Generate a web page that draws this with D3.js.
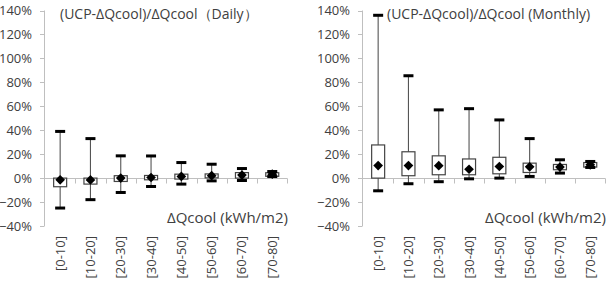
<!DOCTYPE html>
<html>
<head>
<meta charset="utf-8">
<script src="https://cdn.jsdelivr.net/npm/d3@7"></script>
<style>
  body { margin: 0; background: #fff; }
  svg { display: block; }
  text { font-family: "Open Sans", sans-serif; fill: #404040; }
</style>
</head>
<body>
<svg id="chart" width="606" height="285"></svg>
<script>
const categories = ["[0-10]", "[10-20]", "[20-30]", "[30-40]", "[40-50]", "[50-60]", "[60-70]", "[70-80]"];
const yTicks = [-0.4, -0.2, 0, 0.2, 0.4, 0.6, 0.8, 1.0, 1.2, 1.4];

// daily ratios
const dailyMin = [-0.25, -0.18, -0.12, -0.07, -0.05, -0.023, -0.02, 0.013];
const dailyQ1 = [-0.072, -0.05, -0.028, -0.014, -0.008, 0.002, 0.0, 0.015];
const dailyMid = [-0.014, -0.015, 0.0, 0.005, 0.014, 0.02, 0.025, 0.033];
const dailyQ3 = [0.0, 0.0, 0.02, 0.022, 0.033, 0.035, 0.046, 0.045];
const dailyMax = [0.39, 0.33, 0.186, 0.185, 0.13, 0.116, 0.08, 0.055];

// monthly ratios
const monthlyMin = [-0.106, -0.047, -0.03, -0.006, 0.0, 0.014, 0.042, 0.089];
const monthlyQ1 = [0.0, 0.02, 0.028, 0.028, 0.036, 0.047, 0.07, 0.092];
const monthlyMid = [0.105, 0.105, 0.104, 0.074, 0.097, 0.094, 0.092, 0.111];
const monthlyQ3 = [0.277, 0.22, 0.186, 0.16, 0.174, 0.125, 0.114, 0.13];
const monthlyMax = [1.36, 0.855, 0.57, 0.58, 0.486, 0.33, 0.153, 0.139];

const svg = d3.select("#chart");

function drawPanel(x0, x1, title, mins, q1s, mids, q3s, maxs) {
  const g = svg.append("g");
  const x = d3.scaleBand().domain(categories).range([x0, x1]);
  const y = d3.scaleLinear().domain([-0.4, 1.4]).range([226, 10.5]);

  // y axis
  g.append("line")
    .attr("x1", x0 - 0.5).attr("x2", x0 - 0.5)
    .attr("y1", y(-0.4)).attr("y2", y(1.4))
    .attr("stroke", "#bfbfbf");
  g.selectAll(".ytick").data(yTicks).enter().append("line")
    .attr("x1", x0 - 5).attr("x2", x0 - 0.5)
    .attr("y1", d => Math.round(y(d)) + 0.5).attr("y2", d => Math.round(y(d)) + 0.5)
    .attr("stroke", "#bfbfbf");
  g.selectAll(".ylab").data(yTicks).enter().append("text")
    .attr("x", x0 - 13).attr("y", d => y(d) + 4.5)
    .attr("text-anchor", "end")
    .style("font-size", "13px")
    .text(d => d3.format(".0%")(d));

  // x axis at zero
  const y0 = Math.round(y(0)) + 0.5;
  g.append("line")
    .attr("x1", x0).attr("x2", x1)
    .attr("y1", y0).attr("y2", y0)
    .attr("stroke", "#bfbfbf");
  g.selectAll(".xtick").data(categories.slice(1).concat([null])).enter().append("line")
    .attr("x1", (d, i) => Math.round(x0 + (i + 1) * x.bandwidth()) + 0.5)
    .attr("x2", (d, i) => Math.round(x0 + (i + 1) * x.bandwidth()) + 0.5)
    .attr("y1", y0).attr("y2", y0 + 5)
    .attr("stroke", "#bfbfbf");
  g.selectAll(".xlab").data(categories).enter().append("text")
    .attr("transform", d => `translate(${x(d) + x.bandwidth() / 2 + 4.5},236) rotate(-90)`)
    .attr("text-anchor", "end")
    .style("font-size", "13px")
    .text(d => d);

  const cx = d => x(d) + x.bandwidth() / 2;

  // whiskers
  g.selectAll(".whisk").data(categories).enter().append("line")
    .attr("x1", cx).attr("x2", cx)
    .attr("y1", (d, i) => y(maxs[i])).attr("y2", (d, i) => y(mins[i]))
    .attr("stroke", "#555").attr("stroke-width", 1.1);

  // boxes
  g.selectAll(".box").data(categories).enter().append("rect")
    .attr("x", d => cx(d) - 6.5).attr("width", 13)
    .attr("y", (d, i) => y(q3s[i]))
    .attr("height", (d, i) => Math.max(1, y(q1s[i]) - y(q3s[i])))
    .attr("fill", "#fff").attr("stroke", "#444").attr("stroke-width", 1.2);

  // caps
  [maxs, mins].forEach(vals => {
    g.selectAll(null).data(categories).enter().append("rect")
      .attr("x", d => cx(d) - 5).attr("width", 10)
      .attr("y", (d, i) => y(vals[i]) - 1.5).attr("height", 3)
      .attr("fill", "#000");
  });

  // median diamonds
  g.selectAll(".mid").data(categories).enter().append("path")
    .attr("d", d3.symbol(d3.symbolDiamond2, 60))
    .attr("transform", (d, i) => `translate(${cx(d)},${y(mids[i])})`)
    .attr("fill", "#000");

  g.append("text")
    .attr("x", title.x).attr("y", 19)
    .style("font-size", "14px")
    .text(title.text);

  g.append("text")
    .attr("x", title.axisX).attr("y", 223)
    .style("font-size", "15px")
    .text("ΔQcool (kWh/m2)");
}

drawPanel(45, 287.4, { text: "(UCP-ΔQcool)/ΔQcool（Daily）", x: 60, axisX: 167 },
  dailyMin, dailyQ1, dailyMid, dailyQ3, dailyMax);
drawPanel(363, 605.4, { text: "(UCP-ΔQcool)/ΔQcool (Monthly)", x: 387, axisX: 485 },
  monthlyMin, monthlyQ1, monthlyMid, monthlyQ3, monthlyMax);
</script>
</body>
</html>
